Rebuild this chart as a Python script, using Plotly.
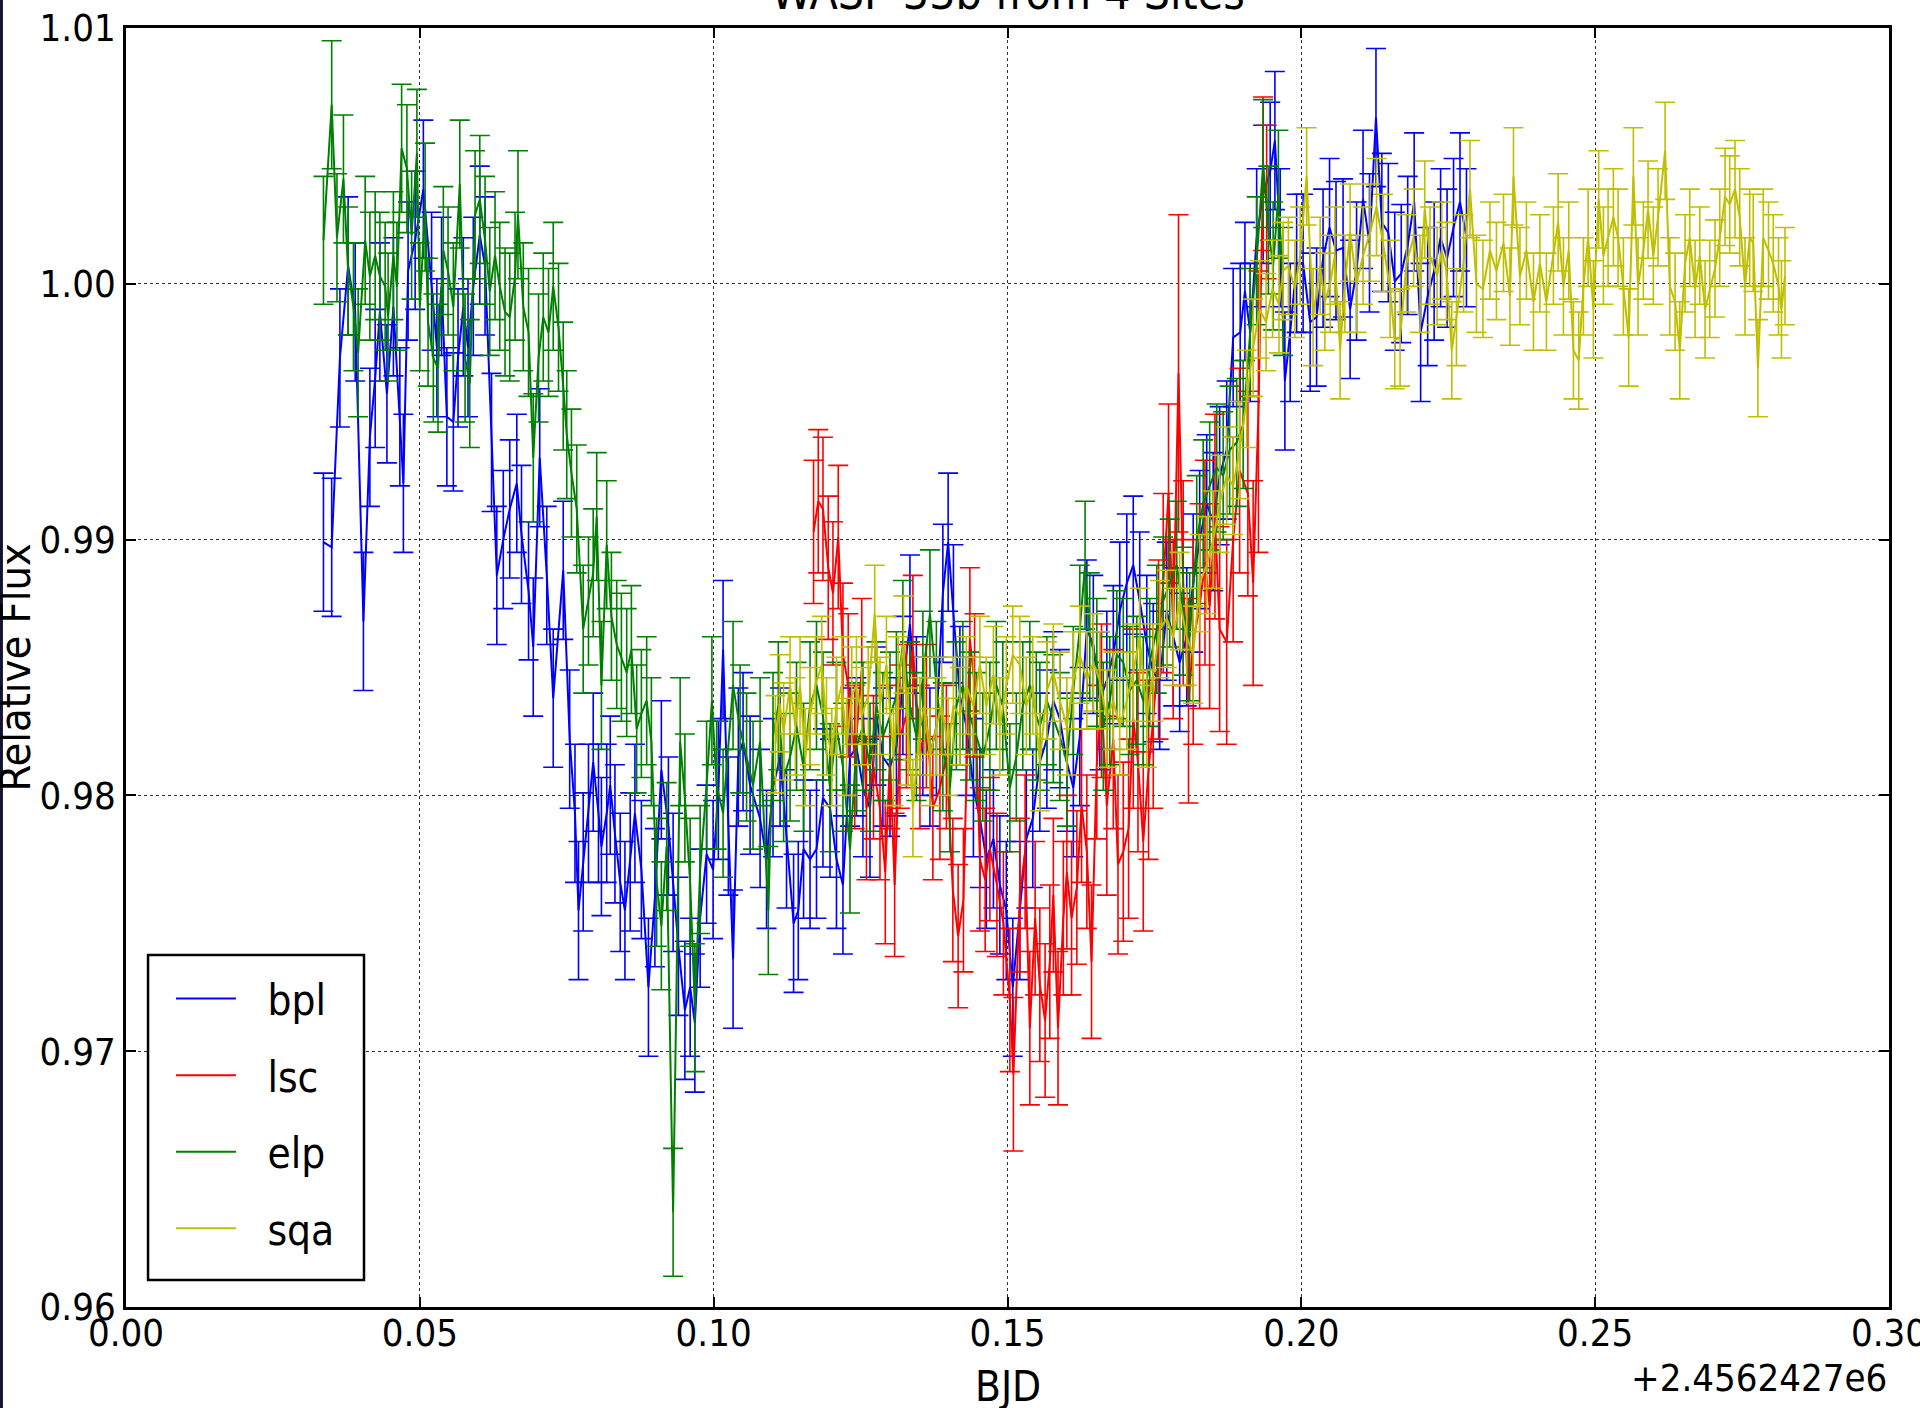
import plotly.graph_objects as go

# ---------------- data (BJD - 2456242.7, relative flux) ----------------
BPL_T = [0.0336, 0.0350, 0.0364, 0.0378, 0.0390, 0.0404, 0.0415, 0.0424, 0.0432, 0.0444,
         0.0455, 0.0466, 0.0472, 0.0480, 0.0492, 0.0506, 0.0520, 0.0529, 0.0537, 0.0546,
         0.0557, 0.0565, 0.0574, 0.0582, 0.0591, 0.0602, 0.0611, 0.0622, 0.0631, 0.0642,
         0.0653, 0.0665, 0.0673, 0.0685, 0.0693, 0.0704, 0.0716, 0.0727, 0.0744, 0.0755,
         0.0764, 0.0770, 0.0778, 0.0787, 0.0795, 0.0804, 0.0809, 0.0818, 0.0824, 0.0832,
         0.0841, 0.0849, 0.0858, 0.0866, 0.0877, 0.0889, 0.0900, 0.0911, 0.0923, 0.0931,
         0.0940, 0.0951, 0.0960, 0.0968, 0.0977, 0.0988, 0.0999, 0.1008, 0.1016, 0.1025,
         0.1033, 0.1042, 0.1050, 0.1062,
         0.1079, 0.1090, 0.1101, 0.1113, 0.1124, 0.1136, 0.1144, 0.1153, 0.1164, 0.1175,
         0.1186, 0.1198, 0.1209, 0.1220, 0.1232, 0.1243, 0.1254, 0.1266, 0.1277, 0.1288,
         0.1300, 0.1311, 0.1322, 0.1334, 0.1345, 0.1356, 0.1368, 0.1379, 0.1390, 0.1399,
         0.1408, 0.1419, 0.1430, 0.1442, 0.1453, 0.1464, 0.1476, 0.1487, 0.1498, 0.1509,
         0.1521, 0.1532, 0.1543,
         0.1555, 0.1567, 0.1578, 0.1589, 0.1601, 0.1612, 0.1623, 0.1635, 0.1646, 0.1657,
         0.1669, 0.1680, 0.1691, 0.1703, 0.1714, 0.1725, 0.1737, 0.1748, 0.1759, 0.1771,
         0.1782, 0.1793, 0.1805, 0.1816, 0.1827, 0.1839, 0.1850, 0.1861, 0.1873,
         0.1884, 0.1896, 0.1904, 0.1913, 0.1924, 0.1935, 0.1947, 0.1955, 0.1964, 0.1972,
         0.1981, 0.1992,
         0.2003, 0.2015, 0.2026, 0.2037, 0.2048, 0.2059, 0.2071, 0.2083, 0.2094, 0.2105,
         0.2116, 0.2127, 0.2137, 0.2148, 0.2159, 0.2170, 0.2181, 0.2192, 0.2203, 0.2215,
         0.2226, 0.2237, 0.2248, 0.2259, 0.2270, 0.2281]
BPL_F = [0.9899, 0.9897, 0.9971, 1.0007, 0.9989, 0.9868, 0.9940, 0.9963, 0.9989, 0.9957,
         0.9991, 0.9948, 0.9922, 1.0005, 1.0017, 1.0037, 1.0001, 0.9975, 0.9999, 0.9948,
         0.9946, 0.9971, 0.9991, 0.9975, 0.9999, 1.0019, 1.0007, 0.9938, 0.9886, 0.9900,
         0.9912, 0.9922, 0.9902, 0.9880, 0.9858, 0.9932, 0.9886, 0.9838, 0.9888, 0.9822,
         0.9793, 0.9755, 0.9774, 0.9793, 0.9813, 0.9793, 0.9780, 0.9793, 0.9804, 0.9785,
         0.9766, 0.9755, 0.9774, 0.9793, 0.9771, 0.9725, 0.9760, 0.9810, 0.9788, 0.9766,
         0.9741, 0.9716, 0.9725, 0.9711, 0.9752, 0.9777, 0.9771, 0.9802, 0.9857, 0.9788,
         0.9736, 0.9815, 0.9821, 0.9804,
         0.9791, 0.9775, 0.9803, 0.9815, 0.9783, 0.9750, 0.9755, 0.9779, 0.9775, 0.9779,
         0.9799, 0.9795, 0.9775, 0.9765, 0.9815, 0.9819, 0.9803, 0.9795, 0.9831, 0.9815,
         0.9811, 0.9819, 0.9843, 0.9867, 0.9835, 0.9827, 0.9815, 0.9827, 0.9879, 0.9899,
         0.9871, 0.9839, 0.9827, 0.9803, 0.9791, 0.9775, 0.9783, 0.9765, 0.9755, 0.9725,
         0.9755, 0.9783, 0.9791,
         0.9813, 0.9822, 0.9837, 0.9830, 0.9813, 0.9803, 0.9823, 0.9865, 0.9859, 0.9837,
         0.9845, 0.9855, 0.9872, 0.9883, 0.9890, 0.9876, 0.9859, 0.9848, 0.9845, 0.9872,
         0.9862, 0.9852, 0.9862, 0.9883, 0.9900, 0.9914, 0.9907, 0.9925, 0.9935,
         0.9979, 0.9981, 0.9997, 0.9981, 1.0018, 1.0035, 1.0044, 1.0056, 1.0018, 0.9962,
         0.9981, 1.0008,
         1.0008, 0.9985, 0.9987, 1.0010, 1.0022, 1.0013, 1.0014, 0.9990, 1.0005, 1.0033,
         1.0016, 1.0065, 1.0024, 1.0020, 1.0001, 1.0004, 1.0015, 1.0032, 0.9981, 0.9995,
         1.0005, 1.0018, 1.0010, 1.0022, 1.0032, 1.0018]
BPL_ERR = 0.0027

LSC_T = [0.1170, 0.1178, 0.1186, 0.1195, 0.1203, 0.1212, 0.1220, 0.1229, 0.1240, 0.1252,
         0.1260, 0.1272, 0.1283, 0.1292, 0.1300, 0.1308, 0.1317, 0.1328, 0.1339, 0.1351,
         0.1362, 0.1373, 0.1385, 0.1396, 0.1407, 0.1416, 0.1425, 0.1436, 0.1444, 0.1453,
         0.1462, 0.1470, 0.1482, 0.1493, 0.1504, 0.1510, 0.1521, 0.1530, 0.1538, 0.1547,
         0.1555, 0.1564, 0.1572, 0.1578, 0.1586, 0.1595, 0.1601, 0.1609, 0.1618, 0.1626,
         0.1635, 0.1643, 0.1652, 0.1660, 0.1669, 0.1680, 0.1688, 0.1697, 0.1706, 0.1714,
         0.1722, 0.1731, 0.1740, 0.1748, 0.1757, 0.1765, 0.1774, 0.1782, 0.1791, 0.1799,
         0.1808, 0.1816, 0.1827, 0.1836, 0.1844, 0.1853, 0.1861, 0.1873, 0.1884, 0.1895,
         0.1909, 0.1918, 0.1927, 0.1935, 0.1941]
LSC_F = [0.9903, 0.9915, 0.9912, 0.9889, 0.9879, 0.9901, 0.9855, 0.9843, 0.9815, 0.9849,
         0.9795, 0.9811, 0.9795, 0.9770, 0.9815, 0.9765, 0.9823, 0.9831, 0.9858, 0.9815,
         0.9831, 0.9795, 0.9803, 0.9815, 0.9763, 0.9745, 0.9759, 0.9861, 0.9843, 0.9775,
         0.9767, 0.9779, 0.9765, 0.9750, 0.9720, 0.9691, 0.9761, 0.9778, 0.9709, 0.9752,
         0.9726, 0.9712, 0.9735, 0.9761, 0.9709, 0.9752, 0.9770, 0.9752, 0.9764, 0.9796,
         0.9778, 0.9735, 0.9813, 0.9837, 0.9796, 0.9822, 0.9773, 0.9778, 0.9787, 0.9830,
         0.9813, 0.9782, 0.9810, 0.9830, 0.9857, 0.9883, 0.9918, 0.9865, 0.9965, 0.9883,
         0.9837, 0.9860, 0.9874, 0.9891, 0.9874, 0.9909, 0.9865, 0.9860, 0.9900, 0.9927,
         0.9918, 0.9883, 0.9950, 1.0043, 1.0032]
LSC_ERR = [0.0028, 0.0028, 0.0028, 0.0028, 0.0028, 0.0028, 0.0028, 0.0028, 0.0028, 0.0028,
           0.0028, 0.0028, 0.0028, 0.0028, 0.0028, 0.0028, 0.0028, 0.0028, 0.0028, 0.0028,
           0.0028, 0.0028, 0.0028, 0.0028, 0.0028, 0.0028, 0.0028, 0.0028, 0.0028, 0.0028,
           0.0028, 0.0028, 0.0028, 0.0028, 0.0028, 0.0030, 0.0030, 0.0030, 0.0030, 0.0030,
           0.0030, 0.0030, 0.0030, 0.0030, 0.0030, 0.0030, 0.0030, 0.0030, 0.0030, 0.0030,
           0.0030, 0.0030, 0.0030, 0.0030, 0.0035, 0.0035, 0.0035, 0.0035, 0.0035, 0.0035,
           0.0035, 0.0035, 0.0035, 0.0035, 0.0035, 0.0035, 0.0035, 0.0035, 0.0062, 0.0040,
           0.0040, 0.0040, 0.0040, 0.0040, 0.0040, 0.0040, 0.0040, 0.0040, 0.0040, 0.0040,
           0.0040, 0.0040, 0.0055, 0.0030, 0.0030]

ELP_T = [0.0336, 0.0350, 0.0359, 0.0370, 0.0378, 0.0387, 0.0395, 0.0407, 0.0415, 0.0424,
         0.0432, 0.0441, 0.0446, 0.0455, 0.0461, 0.0469, 0.0478, 0.0486, 0.0495, 0.0500,
         0.0509, 0.0514, 0.0523, 0.0531, 0.0540, 0.0548, 0.0557, 0.0568, 0.0577, 0.0585,
         0.0594, 0.0602, 0.0611, 0.0619, 0.0628, 0.0636, 0.0645, 0.0653, 0.0662, 0.0667,
         0.0676, 0.0685, 0.0693, 0.0702, 0.0710, 0.0719, 0.0727, 0.0736, 0.0744, 0.0750,
         0.0758, 0.0767,
         0.0778, 0.0787, 0.0795, 0.0801, 0.0809, 0.0818, 0.0826, 0.0835, 0.0843, 0.0852,
         0.0860, 0.0869, 0.0877, 0.0886, 0.0894, 0.0903, 0.0911, 0.0920, 0.0931, 0.0943,
         0.0951, 0.0960, 0.0968, 0.0977, 0.0988, 0.0997, 0.1005, 0.1016, 0.1033, 0.1045,
         0.1056, 0.1067, 0.1079,
         0.1093, 0.1101, 0.1110, 0.1119, 0.1130, 0.1141, 0.1153, 0.1164, 0.1175, 0.1186,
         0.1198, 0.1209, 0.1220, 0.1232, 0.1243, 0.1254, 0.1266, 0.1277, 0.1288, 0.1300,
         0.1311, 0.1322, 0.1334, 0.1345, 0.1356, 0.1368, 0.1379, 0.1390, 0.1402, 0.1413,
         0.1424, 0.1436, 0.1447, 0.1458, 0.1470, 0.1481, 0.1492, 0.1504, 0.1515, 0.1526,
         0.1538, 0.1549,
         0.1555, 0.1567, 0.1578, 0.1589, 0.1601, 0.1612, 0.1623, 0.1632, 0.1640, 0.1652,
         0.1663, 0.1674, 0.1686, 0.1697, 0.1708, 0.1720, 0.1731, 0.1742, 0.1754, 0.1765,
         0.1776, 0.1788, 0.1799, 0.1810, 0.1822, 0.1833, 0.1844, 0.1856, 0.1867, 0.1878,
         0.1890, 0.1901, 0.1913, 0.1924, 0.1935, 0.1944, 0.1952, 0.1961, 0.1969]
ELP_F = [1.0017, 1.0070, 1.0018, 1.0041, 1.0005, 0.9991, 0.9973, 1.0017, 1.0003, 1.0011,
         1.0003, 0.9999, 0.9987, 1.0011, 0.9999, 1.0053, 1.0045, 1.0019, 1.0051, 0.9991,
         1.0030, 0.9985, 0.9971, 0.9967, 1.0013, 1.0005, 0.9991, 1.0039, 0.9971, 0.9961,
         1.0027, 1.0033, 1.0017, 0.9997, 1.0011, 0.9999, 0.9989, 0.9987, 1.0003, 1.0027,
         0.9991, 0.9981, 0.9932, 0.9971, 0.9987, 0.9981, 0.9999, 0.9983, 0.9960, 0.9941,
         0.9926, 0.9912,
         0.9865, 0.9876, 0.9887, 0.9909, 0.9843, 0.9898, 0.9870, 0.9859, 0.9854, 0.9848,
         0.9857, 0.9826, 0.9832, 0.9837, 0.9821, 0.9766, 0.9749, 0.9780, 0.9637, 0.9821,
         0.9799, 0.9766, 0.9717, 0.9771, 0.9804, 0.9837, 0.9804, 0.9793, 0.9843, 0.9826,
         0.9815, 0.9804, 0.9821,
         0.9755, 0.9823, 0.9835, 0.9807, 0.9815, 0.9827, 0.9811, 0.9835, 0.9843, 0.9831,
         0.9803, 0.9827, 0.9811, 0.9779, 0.9819, 0.9827, 0.9811, 0.9835, 0.9823, 0.9831,
         0.9839, 0.9859, 0.9835, 0.9823, 0.9847, 0.9871, 0.9843, 0.9819, 0.9803, 0.9835,
         0.9843, 0.9831, 0.9823, 0.9815, 0.9827, 0.9843, 0.9835, 0.9803, 0.9815, 0.9835,
         0.9843, 0.9831,
         0.9827, 0.9837, 0.9830, 0.9823, 0.9813, 0.9841, 0.9865, 0.9890, 0.9862, 0.9852,
         0.9827, 0.9837, 0.9855, 0.9852, 0.9841, 0.9845, 0.9837, 0.9852, 0.9865, 0.9876,
         0.9883, 0.9890, 0.9872, 0.9862, 0.9900, 0.9914, 0.9921, 0.9928, 0.9925, 0.9935,
         0.9938, 0.9945, 0.9981, 1.0009, 1.0047, 1.0021, 1.0007, 1.0035, 0.9997]
ELP_ERR = 0.0025

SQA_T = [0.1105, 0.1112, 0.1119, 0.1130, 0.1139, 0.1147, 0.1156, 0.1164, 0.1173, 0.1184,
         0.1192, 0.1201, 0.1209, 0.1218, 0.1226, 0.1235, 0.1243, 0.1252, 0.1263, 0.1274,
         0.1283, 0.1294, 0.1306, 0.1314, 0.1323, 0.1331, 0.1339, 0.1351, 0.1359, 0.1368,
         0.1379, 0.1388, 0.1399, 0.1408, 0.1419, 0.1430, 0.1442, 0.1453, 0.1464, 0.1476,
         0.1487, 0.1498, 0.1509, 0.1521, 0.1532, 0.1543,
         0.1555, 0.1567, 0.1578, 0.1589, 0.1601, 0.1612, 0.1623, 0.1635, 0.1646, 0.1657,
         0.1669, 0.1680, 0.1691, 0.1703, 0.1714, 0.1725, 0.1737, 0.1748, 0.1759, 0.1771,
         0.1782, 0.1793, 0.1805, 0.1816, 0.1827, 0.1839, 0.1850, 0.1861, 0.1873, 0.1884,
         0.1895, 0.1907, 0.1918, 0.1929, 0.1940, 0.1951, 0.1962, 0.1969,
         0.1978, 0.1989, 0.1998, 0.2009, 0.2020, 0.2032, 0.2040, 0.2049, 0.2057, 0.2066,
         0.2074, 0.2083, 0.2094, 0.2105, 0.2117, 0.2128, 0.2139, 0.2151, 0.2159, 0.2168,
         0.2179, 0.2191, 0.2202, 0.2210, 0.2219, 0.2231, 0.2239, 0.2247, 0.2256, 0.2264,
         0.2276, 0.2287, 0.2298, 0.2309, 0.2321, 0.2332, 0.2344, 0.2355, 0.2361, 0.2372,
         0.2383, 0.2395, 0.2406, 0.2417,
         0.2429, 0.2437, 0.2446, 0.2455, 0.2463, 0.2472, 0.2480, 0.2488, 0.2497, 0.2506,
         0.2514, 0.2522, 0.2531, 0.2539, 0.2548, 0.2557, 0.2565, 0.2573, 0.2582, 0.2590,
         0.2599, 0.2607, 0.2619, 0.2627, 0.2636, 0.2644, 0.2653, 0.2661, 0.2670, 0.2678,
         0.2687, 0.2695, 0.2704, 0.2712, 0.2721, 0.2729, 0.2738, 0.2746, 0.2755, 0.2763,
         0.2769, 0.2777, 0.2786, 0.2795, 0.2803, 0.2812, 0.2817, 0.2823]
SQA_F = [0.9820, 0.9836, 0.9825, 0.9843, 0.9827, 0.9843, 0.9815, 0.9831, 0.9843, 0.9851,
         0.9827, 0.9815, 0.9835, 0.9843, 0.9819, 0.9839, 0.9843, 0.9831, 0.9839, 0.9871,
         0.9835, 0.9851, 0.9815, 0.9843, 0.9859, 0.9823, 0.9795, 0.9827, 0.9835, 0.9815,
         0.9827, 0.9835, 0.9819, 0.9835, 0.9831, 0.9843, 0.9835, 0.9851, 0.9835, 0.9847,
         0.9827, 0.9843, 0.9855, 0.9851, 0.9835, 0.9843,
         0.9813, 0.9841, 0.9848, 0.9837, 0.9827, 0.9845, 0.9855, 0.9845, 0.9852, 0.9845,
         0.9830, 0.9837, 0.9827, 0.9837, 0.9848, 0.9862, 0.9830, 0.9848, 0.9865, 0.9869,
         0.9862, 0.9876, 0.9862, 0.9855, 0.9883, 0.9890, 0.9900, 0.9914, 0.9925, 0.9921,
         0.9935, 0.9955, 0.9975, 0.9990, 0.9985, 0.9998, 0.9992, 1.0005,
         1.0007, 0.9998, 1.0011, 1.0042, 0.9987, 1.0007, 0.9993, 1.0000, 1.0011, 0.9974,
         1.0000, 1.0020, 1.0000, 1.0011, 1.0020, 1.0030, 1.0016, 0.9998, 0.9978, 0.9979,
         1.0008, 1.0018, 1.0000, 1.0029, 1.0011, 1.0003, 1.0013, 1.0005, 0.9974, 0.9987,
         1.0008, 1.0037, 1.0000, 0.9998, 1.0013, 1.0005, 1.0016, 0.9995, 1.0042, 1.0003,
         1.0013, 0.9993, 1.0008, 0.9993,
         1.0011, 1.0024, 0.9999, 1.0013, 0.9974, 0.9970, 0.9999, 1.0018, 0.9990, 1.0033,
         1.0011, 1.0018, 1.0026, 1.0018, 0.9999, 0.9979, 1.0042, 0.9999, 1.0013, 1.0029,
         1.0011, 1.0026, 1.0052, 0.9999, 0.9993, 0.9974, 1.0008, 1.0018, 0.9998, 1.0011,
         0.9990, 0.9998, 1.0006, 1.0018, 1.0034, 1.0031, 1.0037, 1.0026, 0.9999, 1.0018,
         1.0016, 0.9967, 1.0018, 1.0013, 1.0008, 0.9999, 0.9990, 1.0003]
SQA_ERR = 0.0019

SITES = ["bpl", "lsc", "elp", "sqa"]
COLORS = ["#0000ff", "#ff0000", "#008000", "#bfbf00"]

X_TICKS = [0.00, 0.05, 0.10, 0.15, 0.20, 0.25, 0.30]
X_TICK_LABELS = ["0.00", "0.05", "0.10", "0.15", "0.20", "0.25", "0.30"]
Y_TICKS = [0.96, 0.97, 0.98, 0.99, 1.00, 1.01]
Y_TICK_LABELS = ["0.96", "0.97", "0.98", "0.99", "1.00", "1.01"]

TITLE = "WASP-33b from 4 Sites"
X_TITLE = "BJD"
Y_TITLE = "Relative Flux"
OFFSET_TEXT = "+2.4562427e6"

FONT = "DejaVu Sans Condensed, Liberation Sans Narrow, DejaVu Sans, sans-serif"
LEGEND_PAD = "\u2002\u2009"   # gap between the legend line sample and its label

fig = go.Figure()

series = [(BPL_T, BPL_F, BPL_ERR), (LSC_T, LSC_F, LSC_ERR),
          (ELP_T, ELP_F, ELP_ERR), (SQA_T, SQA_F, SQA_ERR)]
for name, color, (t, f, err) in zip(SITES, COLORS, series):
    if isinstance(err, list):
        ey = dict(type="data", array=err, color=color, thickness=1.6, width=10)
    else:
        ey = dict(type="constant", value=err, color=color, thickness=1.6, width=10)
    fig.add_trace(go.Scatter(
        x=t, y=f, mode="lines", name=LEGEND_PAD + name, legendgroup=name,
        line=dict(color=color, width=2), error_y=ey,
    ))

axis_common = dict(
    showline=True, linecolor="black", linewidth=2.5, mirror="allticks",
    ticks="inside", ticklen=10, tickwidth=1.5, tickcolor="black",
    showgrid=True, gridcolor="#333333", gridwidth=1, griddash="dot",
    zeroline=False, automargin=False, ticklabeloverflow="allow",
    tickfont=dict(family=FONT, size=38, color="black"),
)

fig.update_layout(
    width=1920, height=1408,
    margin=dict(l=126, r=31, t=28, b=101, autoexpand=False),
    paper_bgcolor="white", plot_bgcolor="white",
    xaxis=dict(range=[0, 0.30], tickmode="array", tickvals=X_TICKS, ticktext=X_TICK_LABELS,
               ticklabelstandoff=-9, **axis_common),
    yaxis=dict(range=[0.96, 1.01], tickmode="array", tickvals=Y_TICKS, ticktext=Y_TICK_LABELS,
               **axis_common),
    legend=dict(x=0.0255, y=0.2676, xanchor="left", yanchor="top",
                bgcolor="rgba(0,0,0,0)", borderwidth=0,
                font=dict(family=FONT, size=42, color="black"),
                tracegroupgap=19, itemwidth=60),
    showlegend=True,
    annotations=[
        dict(text=TITLE, x=0.5, y=1.0, xref="paper", yref="paper", xanchor="center",
             yanchor="bottom", yshift=6, showarrow=False,
             font=dict(family=FONT, size=46, color="black")),
        dict(text=X_TITLE, x=0.5, y=-0.0625, xref="paper", yref="paper", xanchor="center",
             yanchor="middle", showarrow=False,
             font=dict(family=FONT, size=42, color="black")),
        dict(text=Y_TITLE, x=-0.0635, y=0.5, xref="paper", yref="paper", xanchor="center",
             yanchor="middle", textangle=-90, showarrow=False,
             font=dict(family=FONT, size=43, color="black")),
        dict(text=OFFSET_TEXT, x=1.0, y=-0.0555, xref="paper", yref="paper", xanchor="right",
             yanchor="middle", showarrow=False,
             font=dict(family=FONT, size=38, color="black")),
    ],
    shapes=[
        # legend frame
        dict(type="rect", xref="paper", yref="paper", x0=0.0125, x1=0.135,
             y0=0.0211, y1=0.2752, fillcolor="white", line=dict(color="black", width=2.5),
             layer="above"),
        # dark strip at the very left edge of the image
        dict(type="rect", xref="paper", yref="paper", x0=-0.0715, x1=-0.0698,
             y0=-0.08, y1=1.03, fillcolor="#141432", line=dict(width=0), layer="above"),
    ],
)

fig.write_html("out.html", config={"displayModeBar": False},
               post_script="document.body.style.margin='0';document.body.style.overflow='hidden';")
